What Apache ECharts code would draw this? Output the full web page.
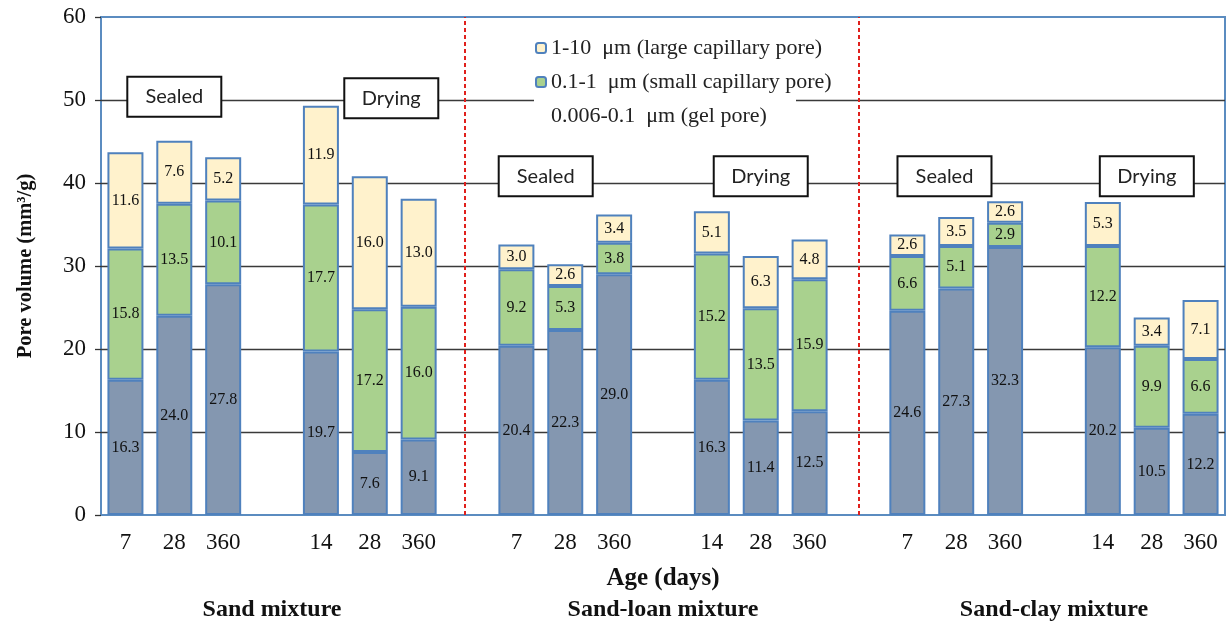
<!DOCTYPE html>
<html>
<head>
<meta charset="utf-8">
<title>Pore volume by mixture and curing</title>
<script src="https://cdn.jsdelivr.net/npm/echarts@6/dist/echarts.min.js"></script>
<style>
  html, body { margin: 0; padding: 0; background: #fff; }
  #chart { width: 1231px; height: 623px; }
</style>
</head>
<body>
<div id="chart"></div>
<script>
// Age tick labels; empty slots separate the curing groups
const ageTicks = ['7', '28', '360', '', '14', '28', '360', '', '7', '28', '360', '', '14', '28', '360', '', '7', '28', '360', '', '14', '28', '360'];

// Pore volume (mm3/g) by pore-size range, one entry per slot (null = spacer)
const gelPore        = [16.3, 24.0, 27.8, null, 19.7, 7.6, 9.1, null, 20.4, 22.3, 29.0, null, 16.3, 11.4, 12.5, null, 24.6, 27.3, 32.3, null, 20.2, 10.5, 12.2];
const smallCapillary = [15.8, 13.5, 10.1, null, 17.7, 17.2, 16.0, null, 9.2, 5.3, 3.8, null, 15.2, 13.5, 15.9, null, 6.6, 5.1, 2.9, null, 12.2, 9.9, 6.6];
const largeCapillary = [11.6, 7.6, 5.2, null, 11.9, 16.0, 13.0, null, 3.0, 2.6, 3.4, null, 5.1, 6.3, 4.8, null, 2.6, 3.5, 2.6, null, 5.3, 3.4, 7.1];

const seriesNames = ['1-10  μm (large capillary pore)', '0.1-1  μm (small capillary pore)', '0.006-0.1  μm (gel pore)'];
const mixtures = ['Sand mixture', 'Sand-loan mixture', 'Sand-clay mixture'];
const curingLabels = ['Sealed', 'Drying', 'Sealed', 'Drying', 'Sealed', 'Drying'];

// Where the curing tags sit, in slot units / pore-volume units
const curingTagX = [1, 5.44, 8.6, 13, 16.76, 20.9];
const curingTagY = [50.4, 50.2, 40.8, 40.8, 40.8, 40.8];
// Dividers between mixtures
const dividerX = [6.94, 15];

const serif = "'Liberation Serif', 'Times New Roman', serif";
const barBorder = '#4f81bd';
const colors = { gel: '#8497b0', small: '#a9d18e', large: '#fff2cc' };

const chart = echarts.init(document.getElementById('chart'), null, { renderer: 'canvas' });

function stackSeries(name, data, color) {
  return {
    name: name,
    type: 'bar',
    stack: 'pore',
    xAxisIndex: 0,
    yAxisIndex: 0,
    barWidth: 36,
    data: data,
    itemStyle: { color: color, borderColor: barBorder, borderWidth: 2 },
    label: {
      show: true,
      position: 'inside',
      formatter: p => (p.value == null ? '' : Number(p.value).toFixed(1)),
      fontFamily: serif,
      fontSize: 16,
      color: '#111'
    },
    emphasis: { disabled: true }
  };
}

const option = {
  animation: false,
  backgroundColor: '#fff',
  grid: {
    left: 101, right: 6, top: 17, bottom: 108,
    show: true, borderColor: '#5b8cc0', borderWidth: 2, backgroundColor: 'transparent'
  },
  legend: {
    orient: 'vertical',
    left: 535, top: 37,
    padding: 0,
    itemGap: 12,
    itemWidth: 10, itemHeight: 10,
    textStyle: { fontFamily: serif, fontSize: 22, color: '#222' },
    data: [
      { name: seriesNames[0] },
      { name: seriesNames[1] },
      { name: seriesNames[2], itemStyle: { color: 'rgba(0,0,0,0)', borderColor: 'rgba(0,0,0,0)', opacity: 0 } }
    ]
  },
  xAxis: [
    {
      type: 'category',
      data: ageTicks.map((t, i) => String(i)),
      boundaryGap: true,
      axisLine: { show: false, onZero: false },
      axisTick: { show: false },
      axisLabel: {
        interval: 0,
        margin: 16,
        formatter: v => ageTicks[Number(v)],
        fontFamily: serif, fontSize: 23, color: '#111'
      },
      splitLine: { show: false },
      name: 'Age (days)',
      nameLocation: 'middle',
      nameGap: 51,
      nameTextStyle: { fontFamily: serif, fontSize: 25, fontWeight: 'bold', color: '#111' }
    },
    {
      type: 'value',
      position: 'bottom',
      offset: 80,
      min: -0.5, max: 22.5,
      axisLine: { show: false, onZero: false },
      axisTick: { show: false },
      splitLine: { show: false },
      axisLabel: {
        customValues: mixtures.map((m, g) => g * 8 + 3),
        margin: 3,
        formatter: v => mixtures[Math.round((v - 3) / 8)] || '',
        fontFamily: serif, fontSize: 24, fontWeight: 'bold', color: '#111'
      }
    }
  ],
  yAxis: {
    type: 'value',
    min: 0, max: 60, interval: 10,
    axisLine: { show: false, onZero: false },
    axisTick: { show: true, length: 6, lineStyle: { color: '#333', width: 1.3 } },
    axisLabel: { margin: 15, fontFamily: serif, fontSize: 23, color: '#111' },
    splitLine: { show: true, showMinLine: false, showMaxLine: false, lineStyle: { color: '#3a3a3a', width: 1.3 } },
    name: 'Pore volume (mm³/g)',
    nameLocation: 'middle',
    nameRotate: 90,
    nameGap: 65,
    nameTextStyle: { fontFamily: serif, fontSize: 20.5, fontWeight: 'bold', color: '#111' }
  },
  graphic: {
    elements: [
      // clears the 50 gridline behind the last legend row
      { type: 'rect', z: 1, shape: { x: 534, y: 95, width: 262, height: 9 }, style: { fill: '#fff' }, silent: true }
    ]
  },
  series: [
    stackSeries(seriesNames[2], gelPore, colors.gel),
    stackSeries(seriesNames[1], smallCapillary, colors.small),
    stackSeries(seriesNames[0], largeCapillary, colors.large),
    {
      name: 'curing',
      type: 'scatter',
      xAxisIndex: 1,
      yAxisIndex: 0,
      z: 5,
      symbol: 'circle',
      symbolSize: 1,
      data: curingLabels.map((lab, i) => ({ name: lab, value: [curingTagX[i], curingTagY[i]] })),
      itemStyle: { color: 'rgba(0,0,0,0)', opacity: 1 },
      label: {
        show: true,
        position: 'inside',
        formatter: p => p.name,
        opacity: 1,
        fontFamily: 'Lato, sans-serif',
        fontSize: 20,
        color: '#222',
        backgroundColor: '#fff',
        borderColor: '#111',
        borderWidth: 2,
        width: 92,
        height: 38,
        lineHeight: 38,
        align: 'center',
        verticalAlign: 'middle',
        padding: 0
      },
      emphasis: { disabled: true },
      markLine: {
        silent: true,
        symbol: 'none',
        label: { show: false },
        lineStyle: { color: '#e0201c', type: [4, 3], width: 2 },
        data: dividerX.map(x => ({ xAxis: x }))
      }
    }
  ]
};

chart.setOption(option);
</script>
</body>
</html>
